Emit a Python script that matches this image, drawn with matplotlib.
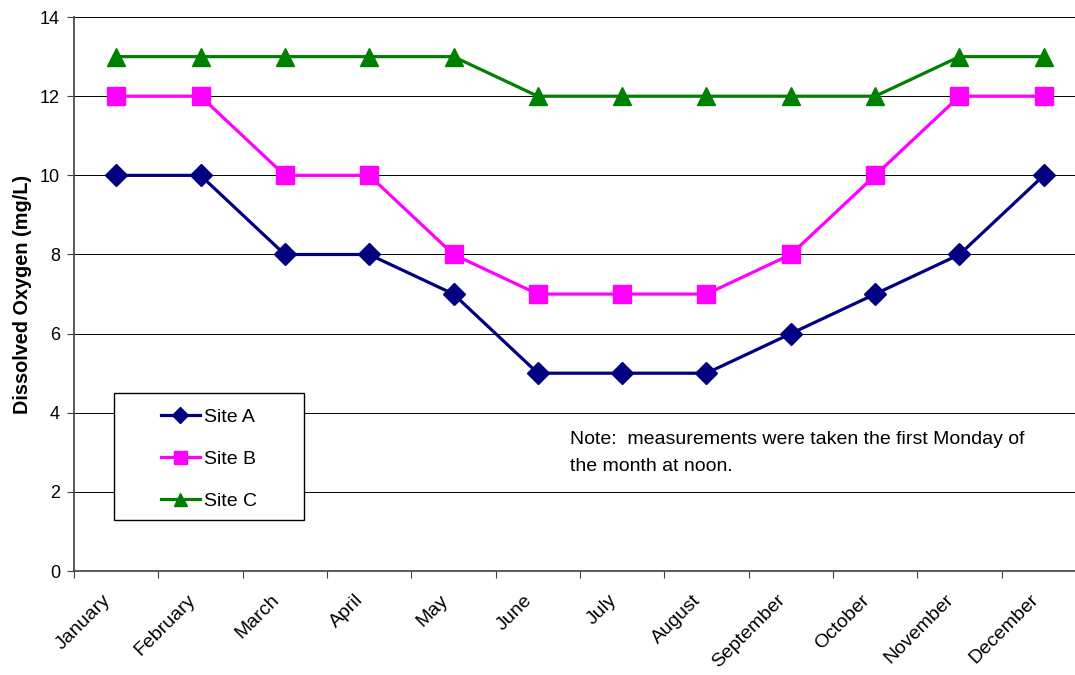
import numpy as np
import matplotlib.pyplot as plt
from matplotlib.patches import Rectangle

plt.rcParams['font.family'] = ['Liberation Sans', 'DejaVu Sans']

# data
months = ['January', 'February', 'March', 'April', 'May', 'June', 'July',
          'August', 'September', 'October', 'November', 'December']
site_a = [10, 10, 8, 8, 7, 5, 5, 5, 6, 7, 8, 10]
site_b = [12, 12, 10, 10, 8, 7, 7, 7, 8, 10, 12, 12]
site_c = [13, 13, 13, 13, 13, 12, 12, 12, 12, 12, 13, 13]
note = 'Note:  measurements were taken the first Monday of\nthe month at noon.'

fig = plt.figure(figsize=(10.75, 6.75), dpi=100)
# plot area runs a little past the right edge, like the original
ax = fig.add_axes([74 / 1075, 0.154, 1012 / 1075, 0.8207])

x = np.arange(len(months))
ax.plot(x, site_a, color='#000080', lw=2.3, marker='D', ms=11.5, label='Site A')
ax.plot(x, site_b, color='#FF00FF', lw=2.3, marker='s', ms=13, label='Site B')
ax.plot(x, site_c, color='#008000', lw=2.3, marker='^', ms=13, label='Site C')

ax.set_xlim(-0.5, len(months) - 0.5)
ax.set_ylim(0, 14)
ax.set_yticks(np.arange(0, 15, 2))
# tick marks between categories, labels (slightly nudged left) on minor ticks
ax.set_xticks(np.arange(-0.5, len(months), 1))
ax.set_xticklabels([])
ax.set_xticks(x - 0.095, minor=True)
ax.set_xticklabels(months, minor=True, rotation=45, ha='right', va='center',
                   rotation_mode='anchor', fontsize=14)
ax.tick_params(axis='x', which='minor', length=0, pad=19)
ax.tick_params(axis='x', which='major', length=5, direction='out', color='#404040')
ax.tick_params(axis='y', length=5, direction='out', labelsize=13, pad=5,
               color='#404040')
ax.grid(axis='y', color='#000000', lw=0.7)
ax.set_axisbelow(True)

for s in ['top', 'right']:
    ax.spines[s].set_visible(False)
for s in ['left', 'bottom']:
    ax.spines[s].set_color('#404040')
    ax.spines[s].set_linewidth(1.2)

ax.set_ylabel('Dissolved Oxygen (mg/L)', fontsize=14.3, fontweight='bold', labelpad=6)

# legend box drawn separately so its width matches the original
ax.add_patch(Rectangle((0.0395, 0.092), 0.1875, 0.229, transform=ax.transAxes,
                       facecolor='white', edgecolor='black', lw=1, zorder=5))
leg = ax.legend(loc='upper left', bbox_to_anchor=(0.086, 0.294), fontsize=14,
                frameon=False, labelspacing=1.26, handlelength=2.0,
                handletextpad=0.2, borderpad=0, borderaxespad=0,
                markerscale=0.72)
leg.set_zorder(6)

ax.text(0.490, 0.252, note, transform=ax.transAxes, fontsize=14,
        va='top', ha='left', linespacing=1.75)

fig.savefig('out.png', dpi=100)
